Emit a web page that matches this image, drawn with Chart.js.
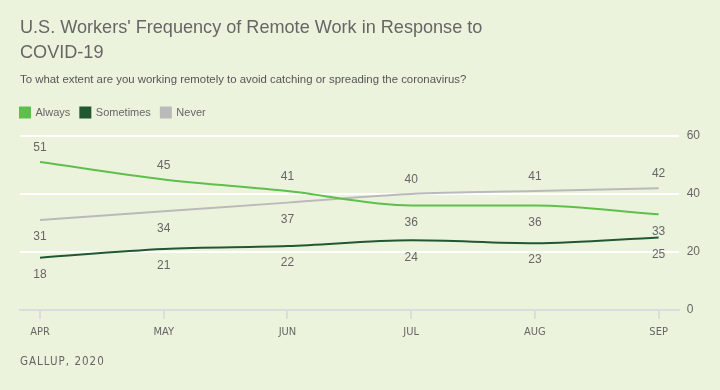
<!DOCTYPE html>
<html>
<head>
<meta charset="utf-8">
<script src="https://cdn.jsdelivr.net/npm/chart.js@4"></script>
<style>
  body { margin: 0; background: #ecf3dd; }
  #wrap { position: relative; width: 720px; height: 390px; background: #ecf3dd; font-family: Arial, "Liberation Sans", sans-serif; color: #666; }
  #title { position: absolute; left: 20px; top: 15px; width: 600px; font-size: 18.1px; line-height: 25px; color: #666; }
  #subtitle { position: absolute; left: 20px; top: 73px; font-size: 11.4px; color: #555; }
  #footer { position: absolute; left: 20px; top: 354px; font-size: 11.5px; letter-spacing: 1px; color: #666; font-family: "DejaVu Sans Condensed", "Liberation Sans Narrow", sans-serif; }
  canvas { position: absolute; left: 0; top: 0; }
</style>
</head>
<body>
<div id="wrap">
  <canvas id="statsRemote" width="720" height="390"></canvas>
  <div id="title">U.S. Workers' Frequency of Remote Work in Response to<br>COVID-19</div>
  <div id="subtitle">To what extent are you working remotely to avoid catching or spreading the coronavirus?</div>
  <div id="footer">GALLUP, 2020</div>
</div>
<script>
const months = ["APR", "MAY", "JUN", "JUL", "AUG", "SEP"];
const always = [51, 45, 41, 36, 36, 33];
const sometimes = [18, 21, 22, 24, 23, 25];
const never = [31, 34, 37, 40, 41, 42];
const yTicks = [0, 20, 40, 60];

// where each label sits: 1 = above the point, -1 = below
const alwaysLabelSide = [1, 1, 1, -1, -1, -1];
const sometimesLabelSide = [-1, -1, -1, -1, -1, -1];
const neverLabelSide = [-1, -1, -1, 1, 1, 1];

const toPoints = (values) => values.map((v, i) => ({ x: i, y: v }));

const pointLabels = {
    id: 'pointLabels',
    afterDatasetsDraw(chart) {
        const ctx = chart.ctx;
        ctx.save();
        ctx.font = '12px Arial, "Liberation Sans", sans-serif';
        ctx.fillStyle = '#666';
        ctx.textAlign = 'center';
        ctx.textBaseline = 'middle';
        chart.data.datasets.forEach((ds, di) => {
            chart.getDatasetMeta(di).data.forEach((pt, i) => {
                const side = ds.labelSide[i];
                const y = side > 0 ? pt.y - 14 : pt.y + 17;
                ctx.fillText(ds.data[i].y, pt.x, y);
            });
        });
        ctx.restore();
    }
};

// legend a bit taller (more room under it) and flush with the left edge
const legendTweak = {
    id: 'legendTweak',
    beforeInit(chart) {
        const fit = chart.legend.fit;
        chart.legend.fit = function () {
            fit.call(this);
            this.height += 8;
        };
    },
    afterLayout(chart) {
        chart.legend.left -= 10;
        chart.legend.right -= 10;
    }
};

const ctx = document.querySelector('#statsRemote').getContext('2d');

new Chart(ctx, {
    type: 'line',
    data: {
        datasets: [
            { label: "Always", data: toPoints(always), labelSide: alwaysLabelSide, borderColor: '#5fbf4d', backgroundColor: '#5fbf4d' },
            { label: "Sometimes", data: toPoints(sometimes), labelSide: sometimesLabelSide, borderColor: '#225733', backgroundColor: '#225733' },
            { label: "Never", data: toPoints(never), labelSide: neverLabelSide, borderColor: '#bababa', backgroundColor: '#bababa' }
        ]
    },
    options: {
        responsive: false,
        animation: false,
        layout: { padding: { top: 97, left: 20, right: 12, bottom: 44 } },
        elements: {
            line: { borderWidth: 2, cubicInterpolationMode: 'monotone' },
            point: { radius: 0, hoverRadius: 0 }
        },
        plugins: {
            tooltip: { enabled: false },
            legend: {
                position: 'top',
                align: 'start',
                labels: {
                    boxWidth: 10,
                    boxHeight: 10,
                    padding: 10,
                    color: '#666',
                    font: { size: 11, family: 'Arial, "Liberation Sans", sans-serif' }
                }
            }
        },
        scales: {
            x: {
                type: 'linear',
                min: -0.162,
                max: 5.162,
                afterBuildTicks: (scale) => { scale.ticks = months.map((m, i) => ({ value: i })); },
                ticks: {
                    callback: (v) => months[v],
                    color: '#666',
                    padding: 7,
                    maxRotation: 0,
                    font: { size: 11, family: '"Liberation Sans Narrow", "DejaVu Sans Condensed", sans-serif' }
                },
                grid: { drawOnChartArea: false, drawTicks: true, tickLength: 9, color: '#dcdcdc', lineWidth: 2 },
                border: { display: true, color: '#dcdcdc', width: 2 }
            },
            y: {
                position: 'right',
                min: 0,
                max: 60,
                afterBuildTicks: (scale) => { scale.ticks = yTicks.map((v) => ({ value: v })); },
                ticks: {
                    color: '#666',
                    padding: 8,
                    font: { size: 12, family: 'Arial, "Liberation Sans", sans-serif' }
                },
                grid: { color: '#ffffff', lineWidth: 2, drawTicks: false },
                border: { display: false }
            }
        }
    },
    plugins: [pointLabels, legendTweak]
});
</script>
</body>
</html>
